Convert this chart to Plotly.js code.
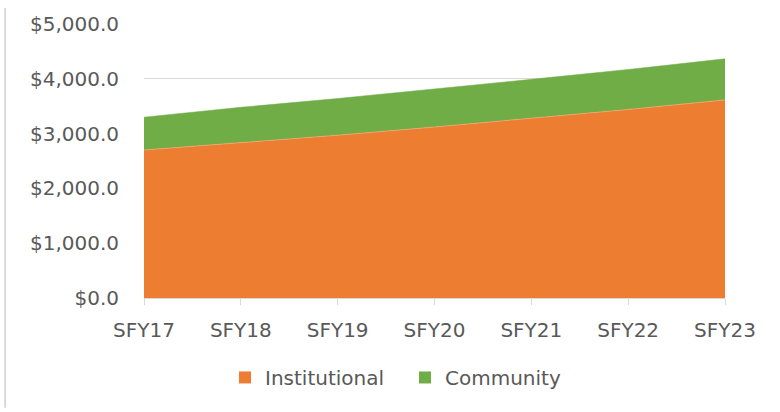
<!DOCTYPE html>
<html>
<head>
<meta charset="utf-8">
<script src="https://cdn.plot.ly/plotly-3.0.1.min.js"></script>
<style>html,body{margin:0;padding:0;background:#fff;}#chart{width:780px;height:412px;}</style>
</head>
<body>
<div id="chart"></div>
<script>
const categories = ["SFY17","SFY18","SFY19","SFY20","SFY21","SFY22","SFY23"];
const institutional = [2700, 2830, 2970, 3120, 3280, 3440, 3615];
const community = [600, 650, 670, 690, 710, 730, 750];
const seriesNames = ["Institutional", "Community"];
const seriesColors = ["#ED7D31", "#70AD47"];

const font = {family: "DejaVu Sans, sans-serif", size: 20, color: "#595959"};

const traces = [
  {x: categories, y: institutional, name: seriesNames[0], type: "scatter", mode: "lines",
   stackgroup: "one", fillcolor: seriesColors[0], line: {color: "#F2A46F", width: 0.8},
   hoverinfo: "skip", showlegend: false},
  {x: categories, y: community, name: seriesNames[1], type: "scatter", mode: "lines",
   stackgroup: "one", fillcolor: seriesColors[1], line: {color: seriesColors[1], width: 0.5},
   hoverinfo: "skip", showlegend: false},
  // legend-only entries (square keys)
  {x: [null], y: [null], name: seriesNames[0], type: "scatter", mode: "markers",
   marker: {symbol: "square", size: 12, color: seriesColors[0]}, showlegend: true},
  {x: [null], y: [null], name: seriesNames[1], type: "scatter", mode: "markers",
   marker: {symbol: "square", size: 12, color: seriesColors[1]}, showlegend: true}
];

const layout = {
  width: 780, height: 412,
  margin: {l: 144, r: 55, t: 24, b: 114},
  paper_bgcolor: "#ffffff", plot_bgcolor: "#ffffff",
  font: font,
  showlegend: true,
  legend: {orientation: "h", x: 0.1394, xanchor: "left", y: -0.29, yanchor: "middle",
           font: font, itemwidth: 30, entrywidth: 135, traceorder: "normal"},
  xaxis: {type: "category", range: [0, 6], showgrid: false, zeroline: false,
          showline: true, linecolor: "#D9D9D9", linewidth: 1,
          ticks: "outside", ticklen: 6, tickcolor: "#D9D9D9", ticklabelstandoff: 8,
          tickfont: font, fixedrange: true},
  yaxis: {range: [0, 5000], dtick: 1000, tick0: 0, tickprefix: "$", tickformat: ",.1f",
          showgrid: true, gridcolor: "#D9D9D9", gridwidth: 1, zeroline: false, showline: false,
          ticks: "", ticklabelstandoff: 24, tickfont: font, fixedrange: true},
  shapes: [
    {type: "line", xref: "paper", yref: "paper", x0: -0.239, x1: -0.239, y0: 1.058, y1: -0.401,
     line: {color: "#D9D9D9", width: 2}}
  ]
};

Plotly.newPlot("chart", traces, layout, {displayModeBar: false, staticPlot: true});
</script>
</body>
</html>
